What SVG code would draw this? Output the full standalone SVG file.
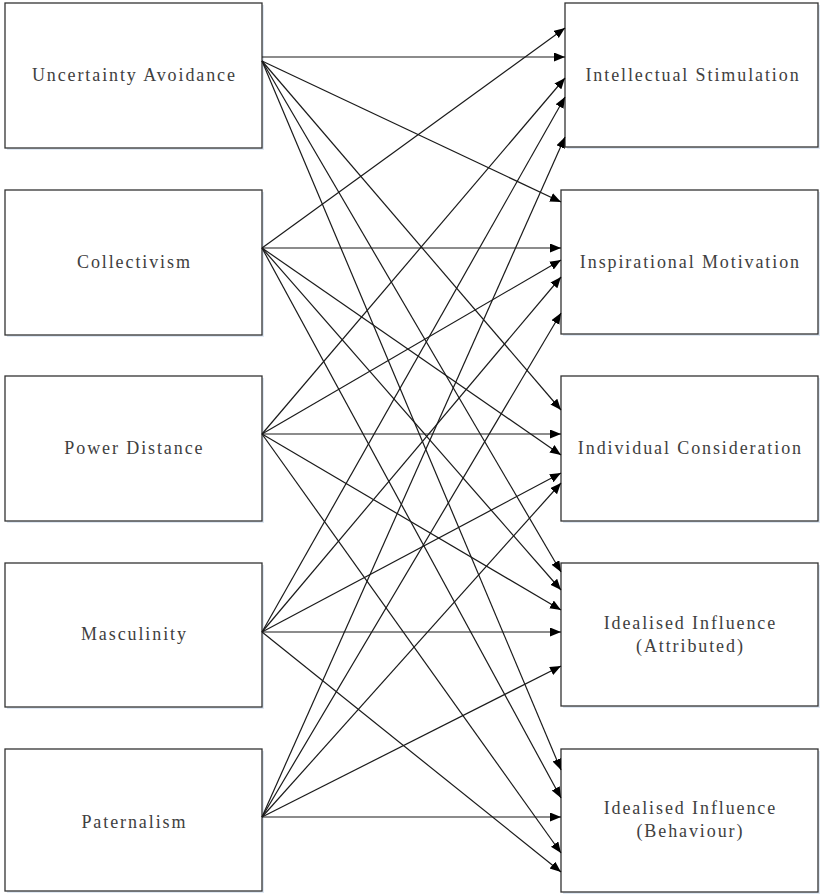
<svg xmlns="http://www.w3.org/2000/svg" width="820" height="894" viewBox="0 0 820 894">
  <style>
    .box { fill: #ffffff; stroke: #333333; stroke-width: 1.3; }
    .shadow { fill: #dfe8f3; }
    .label { font-family: 'Liberation Serif', 'DejaVu Serif', 'Times New Roman', serif; font-size: 18px; letter-spacing: 1.9px; fill: #404040; text-anchor: middle; }
    .edge { stroke: #1a1a1a; stroke-width: 1.2; fill: none; marker-end: url(#arrow); }
  </style>
  <defs>
    <marker id="arrow" markerUnits="userSpaceOnUse" markerWidth="12" markerHeight="10" refX="11" refY="4.5" orient="auto">
      <path d="M0,0 L11,4.5 L0,9 z" fill="#000000"/>
    </marker>
  </defs>
  <rect width="820" height="894" fill="#ffffff"/>

  <!-- left column: cultural dimensions -->
  <g id="uncertainty-avoidance">
    <rect class="shadow" x="7" y="5" width="257" height="145"/>
    <rect class="box" x="5" y="3" width="257" height="145"/>
    <text class="label" x="134.4" y="81">Uncertainty Avoidance</text>
  </g>
  <g id="collectivism">
    <rect class="shadow" x="7" y="192" width="257" height="145"/>
    <rect class="box" x="5" y="190" width="257" height="145"/>
    <text class="label" x="134.4" y="268">Collectivism</text>
  </g>
  <g id="power-distance">
    <rect class="shadow" x="7" y="378" width="257" height="145"/>
    <rect class="box" x="5" y="376" width="257" height="145"/>
    <text class="label" x="134.4" y="454">Power Distance</text>
  </g>
  <g id="masculinity">
    <rect class="shadow" x="7" y="565" width="257" height="144"/>
    <rect class="box" x="5" y="563" width="257" height="144"/>
    <text class="label" x="134.4" y="640">Masculinity</text>
  </g>
  <g id="paternalism">
    <rect class="shadow" x="7" y="751" width="257" height="142"/>
    <rect class="box" x="5" y="749" width="257" height="142"/>
    <text class="label" x="134.4" y="828">Paternalism</text>
  </g>

  <!-- right column: leadership factors -->
  <g id="intellectual-stimulation">
    <rect class="shadow" x="567" y="5" width="253" height="144"/>
    <rect class="box" x="565" y="3" width="253" height="144"/>
    <text class="label" x="693" y="81">Intellectual Stimulation</text>
  </g>
  <g id="inspirational-motivation">
    <rect class="shadow" x="563" y="192" width="257" height="144"/>
    <rect class="box" x="561" y="190" width="257" height="144"/>
    <text class="label" x="690.4" y="268">Inspirational Motivation</text>
  </g>
  <g id="individual-consideration">
    <rect class="shadow" x="563" y="378" width="257" height="145"/>
    <rect class="box" x="561" y="376" width="257" height="145"/>
    <text class="label" x="690.4" y="454">Individual Consideration</text>
  </g>
  <g id="idealised-influence-attributed">
    <rect class="shadow" x="563" y="565" width="257" height="143"/>
    <rect class="box" x="561" y="563" width="257" height="143"/>
    <text class="label" x="690.4" y="629">Idealised Influence</text>
    <text class="label" x="690.4" y="652">(Attributed)</text>
  </g>
  <g id="idealised-influence-behaviour">
    <rect class="shadow" x="563" y="751" width="257" height="143"/>
    <rect class="box" x="561" y="749" width="257" height="143"/>
    <text class="label" x="690.4" y="814">Idealised Influence</text>
    <text class="label" x="690.4" y="837">(Behaviour)</text>
  </g>

  <!-- connectors: every dimension to every leadership factor -->
  <g id="connectors">
    <!-- from Uncertainty Avoidance -->
    <line class="edge" x1="262" y1="57" x2="565" y2="57"/>
    <line class="edge" x1="262" y1="61" x2="561" y2="202"/>
    <line class="edge" x1="262" y1="61" x2="561" y2="410"/>
    <line class="edge" x1="262" y1="61" x2="561" y2="572"/>
    <line class="edge" x1="262" y1="61" x2="561" y2="770"/>
    <!-- from Collectivism -->
    <line class="edge" x1="262" y1="248" x2="565" y2="28"/>
    <line class="edge" x1="262" y1="248" x2="561" y2="248"/>
    <line class="edge" x1="262" y1="248" x2="561" y2="455"/>
    <line class="edge" x1="262" y1="248" x2="561" y2="590"/>
    <line class="edge" x1="262" y1="248" x2="561" y2="798"/>
    <!-- from Power Distance -->
    <line class="edge" x1="262" y1="434" x2="565" y2="78"/>
    <line class="edge" x1="262" y1="434" x2="561" y2="260"/>
    <line class="edge" x1="262" y1="434" x2="561" y2="434"/>
    <line class="edge" x1="262" y1="434" x2="561" y2="610"/>
    <line class="edge" x1="262" y1="434" x2="561" y2="853"/>
    <!-- from Masculinity -->
    <line class="edge" x1="262" y1="632" x2="565" y2="97"/>
    <line class="edge" x1="262" y1="632" x2="561" y2="277"/>
    <line class="edge" x1="262" y1="632" x2="561" y2="473"/>
    <line class="edge" x1="262" y1="632" x2="561" y2="632"/>
    <line class="edge" x1="262" y1="632" x2="561" y2="872"/>
    <!-- from Paternalism -->
    <line class="edge" x1="262" y1="817" x2="565" y2="137"/>
    <line class="edge" x1="262" y1="817" x2="561" y2="313"/>
    <line class="edge" x1="262" y1="817" x2="561" y2="483"/>
    <line class="edge" x1="262" y1="817" x2="561" y2="666"/>
    <line class="edge" x1="262" y1="817" x2="561" y2="817"/>
  </g>
</svg>
